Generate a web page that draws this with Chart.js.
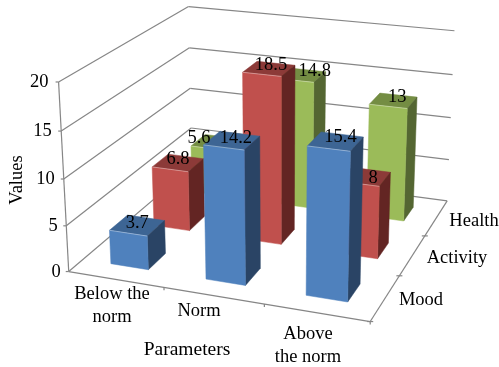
<!DOCTYPE html>
<html><head><meta charset="utf-8">
<style>html,body{margin:0;padding:0;background:#fff}canvas{display:block}</style>
<script src="https://cdn.jsdelivr.net/npm/chart.js@4"></script>
</head><body><canvas id="c" width="499" height="367"></canvas>
<script>
const categories = ["Below the norm", "Norm", "Above the norm"];
const depthLabels = ["Mood", "Activity", "Health"];
const moodValues = [3.7, 14.2, 15.4];
const activityValues = [6.8, 18.5, 8];
const healthValues = [5.6, 14.8, 13];
const yTicks = [0, 5, 10, 15, 20];

// Camera: box corner (u,v,w in 0..1) -> where it appears on the canvas.
const calibration = [
 [0,0,0,69,272],[1,0,0,370,322],[1,1,0,447,200],[0,1,0,192,168],
 [0,0,1,58,82],[0,1,1,188,7],[1,1,1,455,31],
 [0,0,.75,62,131],[0,0,.25,66,225],[0,1,.75,190,48],[0,1,.5,190,87],
 [1,1,.75,452,75],[1,1,.5,451,117],[1,1,.25,449,160]
];
// Small shifts of the value labels from the centre of each bar top [series][category].
const labelNudge = [
 [[0,1],[4,1],[5,-1]],
 [[0,-1],[2,-1],[8,4]],
 [[-16,-1],[13,-1],[4,-1]]
];
function solveCamera(pts){
  const n=11,A=Array.from({length:n},()=>new Array(n+1).fill(0));
  const add=(r,b)=>{for(let i=0;i<n;i++){for(let j=0;j<n;j++)A[i][j]+=r[i]*r[j];A[i][n]+=r[i]*b;}};
  for(const [u,v,w,x0,y0] of pts){const x=x0/100,y=y0/100;
    add([u,v,w,1,0,0,0,0,-x*u,-x*v,-x*w],x);
    add([0,0,0,0,u,v,w,1,-y*u,-y*v,-y*w],y);}
  for(let i=0;i<n;i++){let m=i;for(let k=i+1;k<n;k++)if(Math.abs(A[k][i])>Math.abs(A[m][i]))m=k;
    [A[i],A[m]]=[A[m],A[i]];
    for(let k=0;k<n;k++){if(k===i)continue;const f=A[k][i]/A[i][i];for(let j=i;j<=n;j++)A[k][j]-=f*A[i][j];}}
  return A.map((r,i)=>r[n]/r[i]);
}
const P=solveCamera(calibration);
function proj(u,v,w){const d=P[8]*u+P[9]*v+P[10]*w+1;
  return [100*(P[0]*u+P[1]*v+P[2]*w+P[3])/d,100*(P[4]*u+P[5]*v+P[6]*w+P[7])/d];}

const FONT='"Liberation Serif","Times New Roman",serif';
const FS=18.5;
const GRID='#868686';
const palette=[
 {front:'#4F81BD',side:'#2A4465',top:'#3D6594'},
 {front:'#C0504D',side:'#632523',top:'#8C3A38'},
 {front:'#9BBB59',side:'#546632',top:'#748D43'}
];
function poly(ctx,pts,fill){ctx.beginPath();pts.forEach((p,i)=>i?ctx.lineTo(p[0],p[1]):ctx.moveTo(p[0],p[1]));ctx.closePath();ctx.fillStyle=fill;ctx.fill();ctx.strokeStyle=fill;ctx.lineWidth=.5;ctx.stroke();}
function norm(chart){const a=chart.chartArea,z=chart.scales.z;return{
  u:px=>(px-a.left)/(a.right-a.left),
  w:px=>(a.bottom-px)/(a.bottom-a.top),
  v:px=>(z.bottom-px)/(z.bottom-z.top)};}
function line(ctx,a,b){ctx.beginPath();ctx.moveTo(a[0],a[1]);ctx.lineTo(b[0],b[1]);ctx.stroke();}

class Bar3D extends Chart.BarController{
  draw(){
    const chart=this.chart,ctx=chart.ctx,meta=this.getMeta(),N=norm(chart),z=chart.scales.z;
    const col=palette[this.index];
    const zc=z.getPixelForValue(this.index),zh=(z.bottom-z.top)/z.ticks.length*this.getDataset().barPercentage;
    const v0=N.v(zc+zh/2),v1=N.v(zc-zh/2);
    meta.data.forEach(el=>{
      const u0=N.u(el.x-el.width/2),u1=N.u(el.x+el.width/2),w0=N.w(el.base),w1=N.w(el.y);
      const q=proj;
      poly(ctx,[q(u0,v0,w1),q(u1,v0,w1),q(u1,v1,w1),q(u0,v1,w1)],col.top);
      poly(ctx,[q(u1,v0,w0),q(u1,v1,w0),q(u1,v1,w1),q(u1,v0,w1)],col.side);
      poly(ctx,[q(u0,v0,w0),q(u1,v0,w0),q(u1,v0,w1),q(u0,v0,w1)],col.front);
      ctx.save();ctx.strokeStyle='rgba(255,255,255,.35)';ctx.lineWidth=1;
      line(ctx,q(u0,v0,w1),q(u1,v0,w1));
      ctx.restore();
    });
  }
}
Bar3D.id='bar3d';Bar3D.defaults=Chart.BarController.defaults;Chart.register(Bar3D);

const frame={id:'frame',
  beforeDatasetsDraw(chart){
    const ctx=chart.ctx,N=norm(chart),y=chart.scales.y;
    ctx.save();ctx.strokeStyle=GRID;ctx.lineWidth=1.2;
    y.ticks.forEach(t=>{const w=N.w(y.getPixelForValue(t.value));
      line(ctx,proj(0,0,w),proj(0,1,w));line(ctx,proj(0,1,w),proj(1,1,w));
      const p=proj(0,0,w);line(ctx,[p[0]-3,p[1]],p);});
    line(ctx,proj(0,0,0),proj(0,0,1));
    line(ctx,proj(0,0,0),proj(1,0,0));
    line(ctx,proj(1,0,0),proj(1,1,0));
    [1,2,3].forEach(i=>{const p=proj(i/3,0,0);line(ctx,p,[p[0],p[1]+3]);});
    [0,1,2].forEach(i=>{const p=proj(1,i/3,0);line(ctx,[p[0]-3,p[1]],[p[0]+3,p[1]]);});
    ctx.restore();
  },
  afterDatasetsDraw(chart){
    const ctx=chart.ctx,N=norm(chart),y=chart.scales.y,z=chart.scales.z;
    ctx.save();ctx.fillStyle='#000';ctx.font=FS+'px '+FONT;ctx.textBaseline='middle';
    ctx.textAlign='center';
    [2,1,0].forEach(di=>{
      const meta=chart.getDatasetMeta(di),ds=chart.data.datasets[di];
      const zc=N.v(z.getPixelForValue(di));
      meta.data.forEach((el,i)=>{
        const p=proj(N.u(el.x),zc,N.w(el.y)),n=labelNudge[di][i];
        ctx.fillText(String(ds.data[i]),p[0]+n[0],p[1]-3+n[1]);
      });
    });
    ctx.textAlign='right';
    y.ticks.forEach(t=>{const w=N.w(y.getPixelForValue(t.value));const p=proj(0,0,w);
      ctx.fillText(String(t.value),p[0]-8-2*w,p[1]+.5);});
    ctx.textAlign='center';
    [[112,294,"Below the"],[112,317,"norm"],[199,311,"Norm"],[308,334,"Above"],[308,357,"the norm"]]
      .forEach(t=>ctx.fillText(t[2],t[0],t[1]));
    [[421,300],[457,258],[474,221]].forEach((t,i)=>ctx.fillText(depthLabels[i],t[0],t[1]));
    ctx.font='19.5px '+FONT;
    ctx.fillText("Parameters",187,350);
    ctx.font=FS+'px '+FONT;
    ctx.translate(17,180);ctx.rotate(-Math.PI/2);ctx.fillText("Values",0,0);
    ctx.restore();
  }
};

const ds=(label,data)=>({label,data,barPercentage:.4,categoryPercentage:1,grouped:false,backgroundColor:'#000'});
new Chart(document.getElementById('c'),{
  type:'bar3d',
  data:{labels:categories,datasets:[ds(depthLabels[0],moodValues),ds(depthLabels[1],activityValues),ds(depthLabels[2],healthValues)]},
  options:{responsive:false,animation:false,events:[],
    plugins:{legend:{display:false},tooltip:{enabled:false}},
    layout:{padding:0},
    scales:{
      x:{type:'category',offset:true,display:false},
      y:{type:'linear',min:0,max:20,display:false,afterBuildTicks:s=>{s.ticks=yTicks.map(value=>({value}));}},
      z:{type:'category',axis:'y',labels:depthLabels,offset:true,reverse:true,display:false}
    }},
  plugins:[frame]
});
</script></body></html>
